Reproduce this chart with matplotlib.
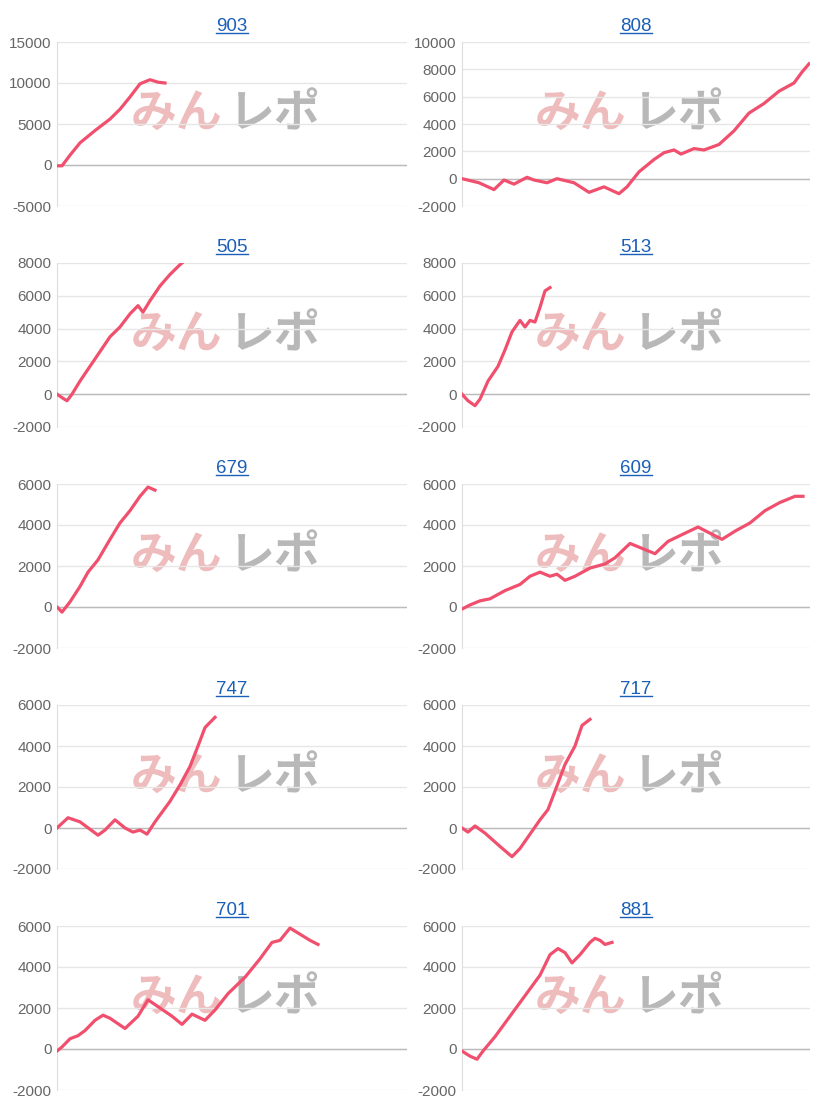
import matplotlib
matplotlib.use("Agg")
import matplotlib.pyplot as plt
from matplotlib.lines import Line2D

plt.rcParams["axes.unicode_minus"] = False
plt.rcParams["font.family"] = ["Liberation Sans", "DejaVu Sans"]

titles = ["903", "808", "505", "513", "679", "609", "747", "717", "701", "881"]
ylims = [(-5000, 15000), (-2000, 10000), (-2000, 8000), (-2000, 8000),
         (-2000, 6000), (-2000, 6000), (-2000, 6000), (-2000, 6000), (-2000, 6000), (-2000, 6000)]
ysteps = [5000, 2000, 2000, 2000, 2000, 2000, 2000, 2000, 2000, 2000]

x903 = [0, 5, 13, 23, 38, 53, 63, 73, 83, 93, 101, 108]
y903 = [-100, -100, 1200, 2700, 4200, 5600, 6800, 8300, 9900, 10400, 10100, 10000]
x808 = [0, 17, 32, 42, 52, 65, 72, 85, 95, 112, 127, 142, 157, 165, 177, 192, 202, 212, 219, 232, 242, 257, 272, 287, 302, 317, 332, 340, 347]
y808 = [0, -300, -800, -100, -400, 100, -100, -300, 0, -300, -1000, -600, -1100, -600, 500, 1400, 1900, 2100, 1800, 2200, 2100, 2500, 3500, 4800, 5500, 6400, 7000, 7800, 8400]
x505 = [0, 6, 10, 15, 23, 33, 43, 53, 63, 73, 81, 86, 93, 103, 113, 123, 125]
y505 = [0, -250, -400, 0, 800, 1700, 2600, 3500, 4100, 4900, 5400, 5000, 5700, 6600, 7300, 7900, 8000]
x513 = [0, 6, 13, 18, 26, 36, 43, 50, 58, 63, 68, 73, 78, 83, 88]
y513 = [0, -400, -700, -300, 800, 1700, 2700, 3800, 4500, 4100, 4500, 4400, 5300, 6300, 6500]
x679 = [0, 5, 13, 23, 31, 41, 53, 63, 73, 83, 91, 98]
y679 = [0, -250, 250, 1000, 1700, 2300, 3300, 4100, 4700, 5400, 5850, 5700]
x609 = [0, 8, 18, 28, 43, 58, 68, 78, 88, 95, 103, 113, 128, 143, 153, 168, 178, 193, 206, 223, 236, 248, 260, 273, 288, 303, 318, 333, 341]
y609 = [-100, 100, 300, 400, 800, 1100, 1500, 1700, 1500, 1600, 1300, 1500, 1900, 2100, 2400, 3100, 2900, 2600, 3200, 3600, 3900, 3600, 3300, 3700, 4100, 4700, 5100, 5400, 5400]
x747 = [0, 11, 23, 41, 48, 58, 68, 76, 83, 90, 98, 113, 123, 133, 141, 148, 158]
y747 = [0, 500, 300, -350, -100, 400, 0, -200, -100, -300, 300, 1300, 2100, 3000, 4000, 4900, 5400]
x717 = [0, 6, 13, 23, 38, 50, 58, 68, 78, 86, 93, 103, 113, 120, 128]
y717 = [0, -200, 100, -250, -900, -1400, -1000, -300, 400, 900, 1800, 3100, 4000, 5000, 5300]
x701 = [0, 5, 13, 21, 28, 38, 46, 53, 68, 81, 91, 103, 115, 125, 135, 148, 158, 171, 188, 203, 215, 223, 233, 243, 253, 261]
y701 = [-100, 100, 500, 650, 900, 1400, 1650, 1500, 1000, 1600, 2400, 2000, 1600, 1200, 1700, 1400, 1900, 2700, 3500, 4400, 5200, 5300, 5900, 5600, 5300, 5100]
x881 = [0, 8, 15, 21, 33, 48, 63, 78, 88, 96, 103, 110, 118, 128, 133, 138, 143, 150]
y881 = [-100, -350, -500, -100, 600, 1600, 2600, 3600, 4600, 4900, 4700, 4200, 4600, 5200, 5400, 5300, 5100, 5200]

xs = [x903, x808, x505, x513, x679, x609, x747, x717, x701, x881]
ys = [y903, y808, y505, y513, y679, y609, y747, y717, y701, y881]

fig = plt.figure(figsize=(8.14, 11.05), dpi=100)
W, H = 814, 1105
title_texts = []
for i in range(10):
    r, c = divmod(i, 2)
    left = 57 if c == 0 else 462
    width = 350 if c == 0 else 348
    top = 42 + 221 * r
    ax = fig.add_axes([left / W, 1 - (top + 164) / H, width / W, 164 / H])
    lo, hi = ylims[i]
    ax.set_ylim(lo, hi)
    ax.set_xlim(0, width)
    ax.set_yticks(range(lo, hi + 1, ysteps[i]))
    ax.set_xticks([])
    ax.grid(axis="y", color="#e6e6e6", lw=1)
    ax.axhline(0, color="#bbbbbb", lw=1, zorder=1)
    for s in ["top", "right", "bottom"]:
        ax.spines[s].set_visible(False)
    ax.spines["left"].set_color("#dddddd")
    ax.tick_params(axis="y", length=0, labelsize=11, labelcolor="#666666", pad=4)
    ax.set_axisbelow(True)
    ax.text(0.21, 0.56, "みん", transform=ax.transAxes, fontsize=33, color="#eebcbc",
            family="Noto Sans CJK JP", weight="bold", va="center", ha="left", zorder=0)
    ax.text(0.49, 0.56, "レポ", transform=ax.transAxes, fontsize=33, color="#b8b8b8",
            family="Noto Sans CJK JP", weight="bold", va="center", ha="left", zorder=0)
    ax.plot(xs[i], ys[i], color="#f0506e", lw=2.3, zorder=3)
    t = ax.set_title(titles[i], color="#1a5fb8", fontsize=13.5, pad=8)
    title_texts.append(t)

fig.canvas.draw()
rend = fig.canvas.get_renderer()
for t in title_texts:
    bb = t.get_window_extent(rend)
    yline = bb.y0 + 2
    fig.add_artist(Line2D([bb.x0 / W, bb.x1 / W], [yline / H, yline / H],
                          transform=fig.transFigure, color="#1a5fb8", lw=1))

fig.savefig("out.png", dpi=100)
